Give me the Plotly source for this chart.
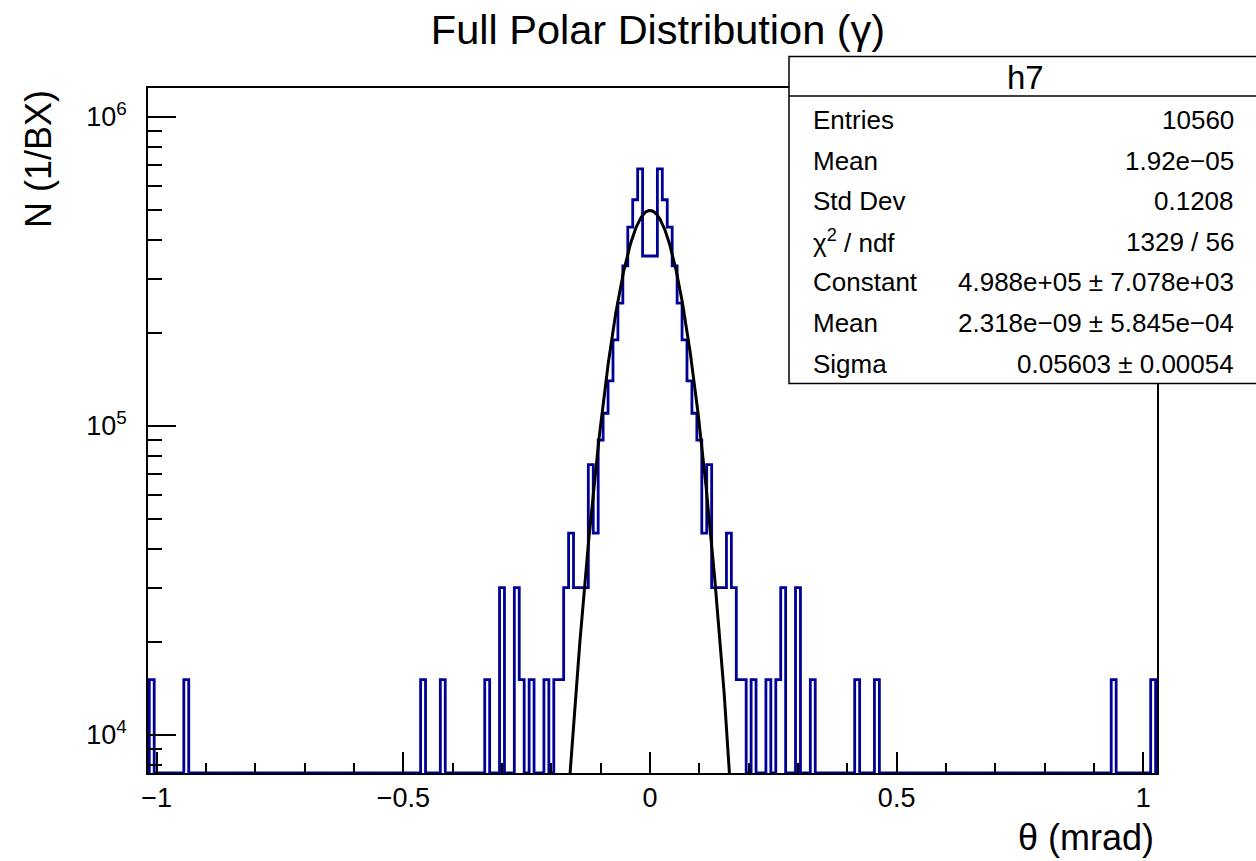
import plotly.graph_objects as go
import numpy as np

# ---------------- data ----------------
bin_width = 0.01          # mrad
hist_lo, hist_hi = -1.025, 1.025
n_bins = 205

# non-empty bins: centre (mrad) and content (N per BX)
bin_centers = [-1.01, -0.94, -0.46, -0.42, -0.33, -0.30, -0.27, -0.26, -0.24, -0.21,
               -0.19, -0.18, -0.17, -0.16, -0.15, -0.14, -0.13, -0.12, -0.11, -0.10,
               -0.09, -0.08, -0.07, -0.06, -0.05, -0.04, -0.03, -0.02, -0.01, 0.00,
               0.01, 0.02, 0.03, 0.04, 0.05, 0.06, 0.07, 0.08, 0.09, 0.10,
               0.11, 0.12, 0.13, 0.14, 0.15, 0.16, 0.17, 0.18, 0.19, 0.21,
               0.24, 0.26, 0.27, 0.30, 0.33, 0.42, 0.46, 0.94, 1.02]
bin_contents = [1.51e4, 1.51e4, 1.51e4, 1.51e4, 1.51e4, 3.0e4, 3.0e4, 1.51e4, 1.51e4, 1.51e4,
                1.51e4, 1.51e4, 3.0e4, 4.5e4, 3.0e4, 3.0e4, 3.0e4, 7.5e4, 4.5e4, 9.0e4,
                1.1e5, 1.4e5, 1.9e5, 2.5e5, 3.3e5, 4.4e5, 5.4e5, 6.8e5, 3.55e5, 3.55e5,
                3.55e5, 6.8e5, 5.4e5, 4.4e5, 3.3e5, 2.5e5, 1.9e5, 1.4e5, 1.1e5, 9.0e4,
                4.5e4, 7.5e4, 3.0e4, 3.0e4, 3.0e4, 4.5e4, 3.0e4, 1.51e4, 1.51e4, 1.51e4,
                1.51e4, 1.51e4, 3.0e4, 3.0e4, 1.51e4, 1.51e4, 1.51e4, 1.51e4, 1.51e4]

# Gaussian fit parameters (stats box)
fit_constant = 4.988e5
fit_mean = 2.318e-09
fit_sigma = 0.05603

x_tick_vals = [-1, -0.5, 0, 0.5, 1]
x_tick_text = ["\u22121", "\u22120.5", "0", "0.5", "1"]
y_tick_vals = [1e4, 1e5, 1e6]
y_tick_text = ["10<sup>4</sup>", "10<sup>5</sup>", "10<sup>6</sup>"]
y_minor_vals = [8e3, 9e3] + [m * 1e4 for m in range(2, 10)] + [m * 1e5 for m in range(2, 10)]

stats_labels = ["Entries", "Mean", "Std Dev", "\u03c7<sup>2</sup> / ndf", "Constant", "Mean", "Sigma"]
stats_values = ["10560", "1.92e\u221205", "0.1208", "1329 / 56",
                "4.988e+05 \u00b1 7.078e+03", "2.318e\u221209 \u00b1 5.845e\u221204",
                "0.05603 \u00b1 0.00054"]

# ---------------- layout constants ----------------
W, H = 1256, 861
L, R, T, B = 148, 1157, 88, 773          # frame in pixels
x_range = [-1.0176, 1.0278]
y_log_range = [3.877, 6.094]
y_floor = 10 ** y_log_range[0]
FONT = "Liberation Sans, Arial, Helvetica, sans-serif"
HIST_COLOR = "#000099"


def px_x(p):
    return (p - L) / (R - L)


def px_y(p):
    return (B - p) / (B - T)


# ---------------- histogram outline ----------------
contents = [y_floor] * n_bins
for c, v in zip(bin_centers, bin_contents):
    idx = int(round((c - hist_lo) / bin_width - 0.5))
    contents[idx] = v
edges = [hist_lo + i * bin_width for i in range(n_bins + 1)]
hx = [edges[0]] + edges[:n_bins] + [edges[n_bins]]
hy = [y_floor] + contents + [y_floor]

fig = go.Figure()
fig.add_trace(go.Scatter(x=hx, y=hy, mode="lines", line=dict(color=HIST_COLOR, width=2.8, shape="hv"),
                         hoverinfo="skip", showlegend=False))

# fit curve
fx = np.linspace(-0.2, 0.2, 801)
fy = fit_constant * np.exp(-0.5 * ((fx - fit_mean) / fit_sigma) ** 2)
fig.add_trace(go.Scatter(x=fx, y=fy, mode="lines", line=dict(color="black", width=3),
                         hoverinfo="skip", showlegend=False))

fig.update_layout(
    width=W, height=H,
    margin=dict(l=L, r=W - R, t=T, b=H - B, pad=0),
    paper_bgcolor="white", plot_bgcolor="white",
    font=dict(family=FONT, color="black"),
    title=dict(text="Full Polar Distribution (\u03b3)", x=658 / W, xref="container",
               y=1 - 29 / H, yref="container", xanchor="center", yanchor="middle",
               font=dict(size=41.5, family=FONT, color="black")),
    xaxis=dict(range=x_range, showgrid=False, zeroline=False,
               showline=True, mirror=True, linecolor="black", linewidth=1.5,
               tickmode="array", tickvals=x_tick_vals, ticktext=x_tick_text,
               ticks="inside", ticklen=21, tickwidth=1.5, tickcolor="black",
               minor=dict(dtick=0.1, tick0=0, ticks="inside", ticklen=10, tickwidth=1.5,
                          tickcolor="black", showgrid=False),
               tickfont=dict(size=27, family=FONT, color="black")),
    yaxis=dict(type="log", range=y_log_range, showgrid=False, zeroline=False,
               showline=True, mirror=True, linecolor="black", linewidth=1.5,
               tickmode="array", tickvals=y_tick_vals, ticktext=y_tick_text,
               ticks="inside", ticklen=28, tickwidth=1.5, tickcolor="black",
               minor=dict(tickmode="array", tickvals=y_minor_vals, ticks="inside", ticklen=14,
                          tickwidth=1.5, tickcolor="black", showgrid=False),
               ticklabelstandoff=14,
               tickfont=dict(size=27, family=FONT, color="black")),
)

# stats box
fig.add_shape(type="rect", xref="paper", yref="paper",
              x0=px_x(789), x1=px_x(1270), y0=px_y(383.5), y1=px_y(56.5),
              fillcolor="white", line=dict(color="black", width=1.5), layer="above")
fig.add_shape(type="line", xref="paper", yref="paper",
              x0=px_x(789), x1=px_x(1270), y0=px_y(96), y1=px_y(96),
              line=dict(color="black", width=1.5), layer="above")

annotations = [
    dict(text="h7", x=px_x(1025), y=px_y(77), xanchor="center", yanchor="middle",
         font=dict(size=33)),
    dict(text="\u03b8 (mrad)", x=px_x(1156), y=px_y(837), xanchor="right", yanchor="middle",
         font=dict(size=36)),
    dict(text="N (1/BX)", x=px_x(38), y=px_y(88), xanchor="center", yanchor="top",
         textangle=-90, font=dict(size=36)),
]
for i, (lab, val) in enumerate(zip(stats_labels, stats_values)):
    yy = 120 + 40.6 * i
    annotations.append(dict(text=lab, x=px_x(811), y=px_y(yy), xanchor="left", yanchor="middle",
                            font=dict(size=26)))
    annotations.append(dict(text=val, x=px_x(1236), y=px_y(yy), xanchor="right", yanchor="middle",
                            font=dict(size=26)))
for a in annotations:
    a.update(xref="paper", yref="paper", showarrow=False)
    a["font"].update(family=FONT, color="black")
fig.update_layout(annotations=annotations)

fig.write_html("out.html")
